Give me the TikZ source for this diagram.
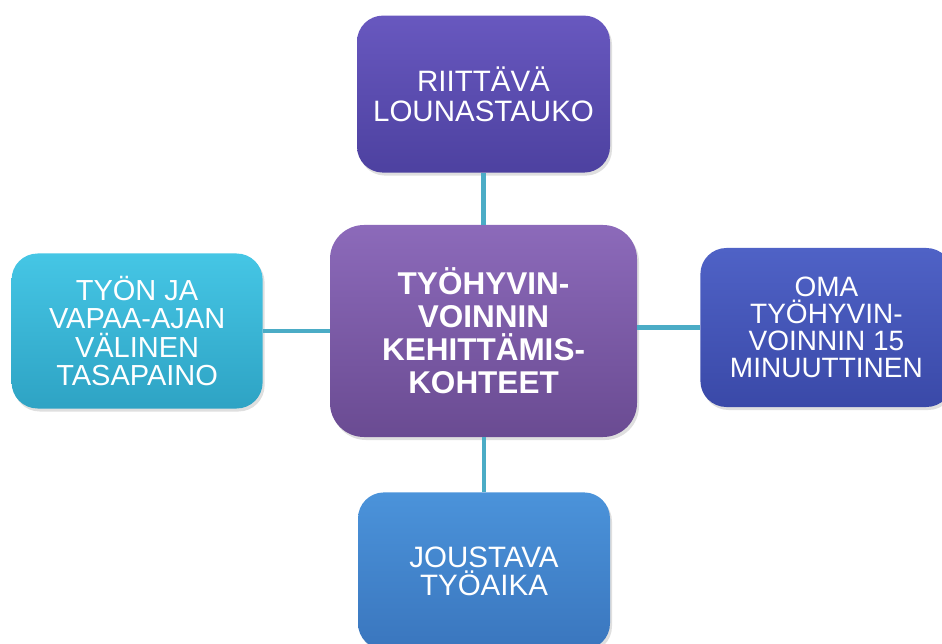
\documentclass[tikz,border=0pt]{standalone}
\usepackage{fontspec}
\setmainfont{Liberation Sans}
\usetikzlibrary{positioning, shadows}
\definecolor{linkTeal}{HTML}{4BACC6}
\definecolor{hubTop}{HTML}{8C6ABA}
\definecolor{hubBot}{HTML}{6A4B92}
\definecolor{indigoTop}{HTML}{6858BF}
\definecolor{indigoBot}{HTML}{4D41A0}
\definecolor{blueTop}{HTML}{4F62C6}
\definecolor{blueBot}{HTML}{3A49A8}
\definecolor{skyTop}{HTML}{4B93DA}
\definecolor{skyBot}{HTML}{3A76BE}
\definecolor{cyanTop}{HTML}{45C6E5}
\definecolor{cyanBot}{HTML}{2EA3C4}

\tikzset{
  leafbox/.style={rounded corners=26pt, text=white, align=center,
    minimum width=252pt, minimum height=157pt, inner sep=0pt,
    font=\fontsize{29.5}{29.5}\selectfont,
    drop shadow={opacity=0.25, shadow xshift=2pt, shadow yshift=-3pt}},
  link/.style={draw=linkTeal, line width=4.5pt}
}

\begin{document}
\begin{tikzpicture}[x=1pt, y=-1pt]
    \useasboundingbox (0,0) rectangle (942,644);
    \node[rounded corners=34pt, text=white, align=center, inner sep=0pt,
          minimum width=307pt, minimum height=212pt,
          top color=hubTop, bottom color=hubBot,
          font=\bfseries\fontsize{31.5}{33}\selectfont,
          drop shadow={opacity=0.25, shadow xshift=2pt, shadow yshift=-3pt}]
          (hub) at (483.5,331) {TYÖHYVIN-\\VOINNIN\\KEHITTÄMIS-\\KOHTEET};
    \node[leafbox, top color=indigoTop, bottom color=indigoBot,
          minimum width=253pt, above=52pt of hub] (lunch) {RIITTÄVÄ\\LOUNASTAUKO};
    \node[leafbox, top color=cyanTop, bottom color=cyanBot,
          minimum width=251pt, minimum height=155pt, left=67pt of hub,
          font=\fontsize{29}{28.3}\selectfont] (balance) {TYÖN JA\\VAPAA-AJAN\\VÄLINEN\\TASAPAINO};
    \node[leafbox, top color=blueTop, bottom color=blueBot,
          minimum height=159pt, right=63pt of hub, yshift=3.5pt,
          font=\fontsize{28}{27}\selectfont] (quarter) {OMA\\TYÖHYVIN-\\VOINNIN 15\\MINUUTTINEN};
    \node[leafbox, top color=skyTop, bottom color=skyBot,
          below=55pt of hub, xshift=0.5pt,
          font=\fontsize{29.5}{28}\selectfont] (flexi) {JOUSTAVA\\TYÖAIKA};
    \draw[link] (lunch.south) -- (lunch.south |- hub.north);
    \draw[link] (balance.east) -- (hub.west |- balance.east);
    \draw[link] (hub.east |- quarter.west) -- (quarter.west);
    \draw[link] (flexi.north |- hub.south) -- (flexi.north);
  \end{tikzpicture}
\end{document}
